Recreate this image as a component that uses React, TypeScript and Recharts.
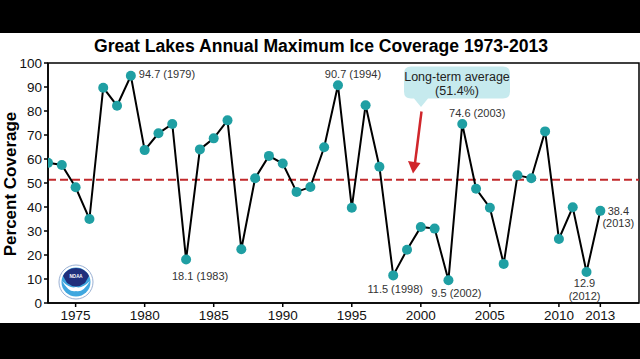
import { LineChart, Line, XAxis, YAxis, ReferenceLine, ReferenceArea, LabelList } from 'recharts';

const years = [
  1973, 1974, 1975, 1976, 1977, 1978, 1979, 1980, 1981, 1982,
  1983, 1984, 1985, 1986, 1987, 1988, 1989, 1990, 1991, 1992,
  1993, 1994, 1995, 1996, 1997, 1998, 1999, 2000, 2001, 2002,
  2003, 2004, 2005, 2006, 2007, 2008, 2009, 2010, 2011, 2012, 2013,
];
const coverage = [
  58.4, 57.5, 48.2, 35.0, 89.7, 82.2, 94.7, 63.7, 70.7, 74.6,
  18.1, 64.0, 68.6, 76.1, 22.4, 52.0, 61.3, 58.1, 46.3, 48.3,
  64.9, 90.7, 39.7, 82.4, 56.8, 11.5, 22.2, 31.7, 31.0, 9.5,
  74.6, 47.6, 39.7, 16.3, 53.2, 52.0, 71.5, 26.7, 39.9, 12.9, 38.4,
];
const xTicks = [1975, 1980, 1985, 1990, 1995, 2000, 2005, 2010, 2013];
const yTicks = [0, 10, 20, 30, 40, 50, 60, 70, 80, 90, 100];
const longTermAverage = 51.4;

const noteYears = [1979, 1983, 1994, 1998, 2002, 2003, 2012, 2013];
const noteTexts = [
  ['94.7 (1979)'],
  ['18.1 (1983)'],
  ['90.7 (1994)'],
  ['11.5 (1998)'],
  ['9.5 (2002)'],
  ['74.6 (2003)'],
  ['12.9', '(2012)'],
  ['38.4', '(2013)'],
];

// where each note sits relative to its point
const notePlace: Record<number, { dx: number; dy: number; anchor: 'start' | 'middle' }> = {
  1979: { dx: 8, dy: 2, anchor: 'start' },
  1983: { dx: 14, dy: 20, anchor: 'middle' },
  1994: { dx: 15, dy: -7, anchor: 'middle' },
  1998: { dx: 2, dy: 18, anchor: 'middle' },
  2002: { dx: 8, dy: 17, anchor: 'middle' },
  2003: { dx: 15, dy: -7, anchor: 'middle' },
  2012: { dx: -2, dy: 15, anchor: 'middle' },
  2013: { dx: 18, dy: 4, anchor: 'middle' },
};

const rows = years.map((year, i) => ({ year, coverage: coverage[i] }));

const FONT = '"Liberation Sans", Arial, Helvetica, sans-serif';

function Note(props: any) {
  const { x, y, index } = props;
  const year = rows[index]?.year;
  const k = noteYears.indexOf(year);
  if (k < 0) return null;
  const p = notePlace[year];
  return (
    <text x={x + p.dx} y={y + p.dy} textAnchor={p.anchor} fontSize={11} fill="#333">
      {noteTexts[k].map((t, j) => (
        <tspan key={j} x={x + p.dx} dy={j === 0 ? 0 : 12.5}>
          {t}
        </tspan>
      ))}
    </text>
  );
}

function NoaaLogo({ cx, cy }: { cx: number; cy: number }) {
  return (
    <g transform={`translate(${cx},${cy})`}>
      <circle r={17} fill="#fff" stroke="#7f9cc8" strokeWidth={0.8} />
      <circle r={14.5} fill="#3fa7df" />
      <path d="M -13 -6 A 14.5 14.5 0 0 1 13 -6 L 9 1 Q 0 8 -9 1 Z" fill="#1f2f7c" />
      <path d="M -14 -1 Q -6 7 0 5 Q 6 7 14 -1 Q 7 11 0 9 Q -7 11 -14 -1 Z" fill="#fff" />
      <text y={-4} textAnchor="middle" fontSize={4.5} fill="#fff" fontWeight="bold">NOAA</text>
    </g>
  );
}

export default function App() {
  return (
    <div style={{ position: 'absolute', left: 0, top: 0, width: 640, height: 359, background: '#000', fontFamily: FONT, overflow: 'hidden' }}>
      <div style={{ position: 'absolute', left: 0, top: 33, width: 640, height: 290, background: '#fff' }} />
      <div style={{ position: 'absolute', left: 0, top: 0 }}>
        <LineChart width={640} height={359} data={rows} margin={{ top: 63, right: 1, bottom: 26, left: 0 }}>
          <XAxis
            dataKey="year"
            type="number"
            domain={[1973, 2015.8]}
            ticks={xTicks}
            allowDataOverflow
            height={30}
            tickSize={4}
            tickMargin={3}
            stroke="#000"
            strokeWidth={1.5}
            tick={{ fontSize: 13.5, fill: '#111' }}
          />
          <YAxis
            domain={[0, 100]}
            ticks={yTicks}
            width={48}
            tickSize={4}
            tickMargin={2}
            stroke="#000"
            strokeWidth={1.5}
            tick={{ fontSize: 13.5, fill: '#111' }}
          />
          <ReferenceArea x1={1973} x2={2015.8} y1={0} y2={100} fill="none" stroke="#000" strokeWidth={1.5} />
          <ReferenceLine y={longTermAverage} stroke="#c22a2c" strokeWidth={2} strokeDasharray="8 4" />
          <Line
            dataKey="coverage"
            stroke="#000"
            strokeWidth={2}
            dot={{ r: 5, fill: '#1f9fa3', stroke: 'none' }}
            isAnimationActive={false}
          >
            <LabelList dataKey="coverage" content={<Note />} />
          </Line>
        </LineChart>
      </div>
      <svg width={640} height={359} style={{ position: 'absolute', left: 0, top: 0, pointerEvents: 'none' }}>
        <text x={321} y={52} textAnchor="middle" fontSize={17.6} fontWeight="bold" fill="#000">
          Great Lakes Annual Maximum Ice Coverage 1973-2013
        </text>
        <text transform="translate(16,184) rotate(-90)" textAnchor="middle" fontSize={17} fontWeight="bold" fill="#000">
          Percent Coverage
        </text>
        <path
          d="M 411 66.5 H 503 Q 510 66.5 510 73.5 V 91.5 Q 510 98.5 503 98.5 H 428 L 421 107 L 414 98.5 H 411 Q 404 98.5 404 91.5 V 73.5 Q 404 66.5 411 66.5 Z"
          fill="#c6eaee"
        />
        <text x={457} y={81} textAnchor="middle" fontSize={12.5} fill="#222">Long-term average</text>
        <text x={457} y={95} textAnchor="middle" fontSize={12.5} fill="#222">(51.4%)</text>
        <line x1={421.5} y1={111.5} x2={415} y2={163} stroke="#d0262b" strokeWidth={2.5} />
        <path d="M 408 161 L 420.5 163 L 413 173.5 Z" fill="#d0262b" />
        <NoaaLogo cx={76} cy={282} />
      </svg>
    </div>
  );
}
